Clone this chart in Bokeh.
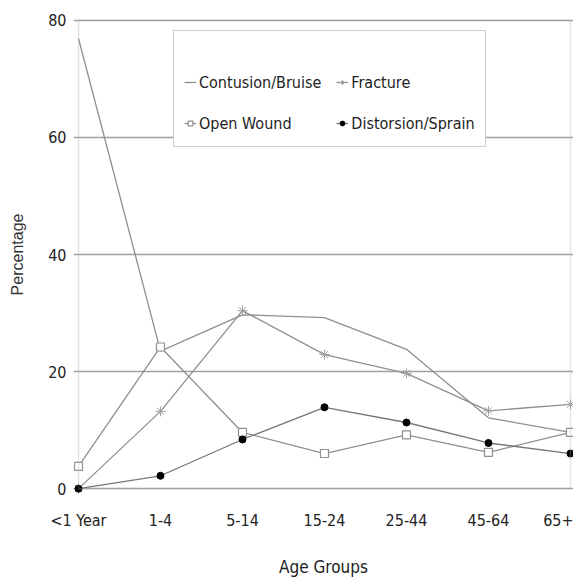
from bokeh.plotting import figure
from bokeh.models import (Range1d, FixedTicker, Legend, LegendItem, BoxAnnotation, Label)
from bokeh.embed import file_html
from bokeh.resources import INLINE

age_groups = ["<1 Year", "1-4", "5-14", "15-24", "25-44", "45-64", "65+"]
x_pos = list(range(len(age_groups)))
contusion = [76.9, 23.5, 29.7, 29.2, 23.8, 12.1, 9.6]
fracture = [0.0, 13.2, 30.4, 22.9, 19.7, 13.3, 14.4]
open_wound = [3.8, 24.2, 9.6, 6.0, 9.2, 6.2, 9.6]
sprain = [0.0, 2.2, 8.4, 13.9, 11.3, 7.8, 6.0]
y_ticks = [0, 20, 40, 60, 80]

FONT = "DejaVu Sans Condensed"
GRAY = "#8f8f8f"

p = figure(frame_width=500, frame_height=480, width=573, height=569,
           x_range=Range1d(-0.061, 6.037), y_range=Range1d(-1, 81),
           output_backend="svg", toolbar_location=None,
           min_border_left=73, min_border_right=0, min_border_top=14, min_border_bottom=75)
p.outline_line_color = None
p.background_fill_color = "white"

p.xaxis.ticker = FixedTicker(ticks=x_pos)
p.xaxis.major_label_overrides = {i: lab for i, lab in zip(x_pos, age_groups)}
p.yaxis.ticker = FixedTicker(ticks=y_ticks)
for ax in (p.xaxis, p.yaxis):
    ax.axis_line_color = None
    ax.major_tick_line_color = None
    ax.minor_tick_line_color = None
    ax.major_label_text_font = FONT
    ax.major_label_text_font_size = "16px"
    ax.major_label_text_color = "#222222"
p.yaxis.major_tick_out = 0
p.yaxis.major_tick_in = 0
p.xaxis.major_label_standoff = 10
p.yaxis.major_label_standoff = 7
p.xaxis.axis_label = "Age Groups"
p.xaxis.axis_label_text_font = FONT
p.xaxis.axis_label_text_font_size = "17px"
p.xaxis.axis_label_text_font_style = "normal"
p.xaxis.axis_label_text_color = "#222222"
p.xaxis.axis_label_standoff = 24
p.yaxis.axis_label = "Percentage"
p.yaxis.axis_label_text_font = "Liberation Sans"
p.yaxis.axis_label_text_font_size = "16px"
p.yaxis.axis_label_text_font_style = "normal"
p.yaxis.axis_label_text_color = "#333333"
p.yaxis.axis_label_standoff = 19

p.xgrid.grid_line_color = None
p.ygrid.ticker = FixedTicker(ticks=y_ticks)
p.ygrid.grid_line_color = "#a0a0a0"
p.ygrid.grid_line_width = 1.6

p.add_layout(BoxAnnotation(left=0, right=6, bottom=0, top=80, fill_alpha=0,
                           line_color="#a8a8a8", line_width=1.5))

r_c = p.line(x_pos, contusion, line_color=GRAY, line_width=1.3)
r_f = p.line(x_pos, fracture, line_color=GRAY, line_width=1.3)
r_fm = p.scatter(x_pos, fracture, marker="asterisk", size=10, line_color="#a0a0a0", line_width=1)
r_o = p.line(x_pos, open_wound, line_color=GRAY, line_width=1.3)
r_om = p.scatter(x_pos, open_wound, marker="square", size=8, fill_color="white",
                 line_color="#909090", line_width=1.2)
r_s = p.line(x_pos, sprain, line_color="#777777", line_width=1.3)
r_sm = p.scatter(x_pos, sprain, marker="circle", size=7, fill_color="black", line_color="black")

legend = Legend(items=[
    LegendItem(label="Contusion/Bruise", renderers=[r_c]),
    LegendItem(label="Open Wound", renderers=[r_o, r_om]),
    LegendItem(label="Fracture", renderers=[r_f, r_fm]),
    LegendItem(label="Distorsion/Sprain", renderers=[r_s, r_sm]),
], ncols=2, location=(100, 347))
legend.title = " "
legend.title_text_font_size = "17px"
legend.title_standoff = 8
legend.label_text_font = FONT
legend.label_text_font_size = "16px"
legend.label_text_color = "#222222"
legend.label_height = 26
legend.label_width = 112
legend.glyph_width = 12
legend.glyph_height = 12
legend.label_standoff = 3
legend.spacing = 15
legend.padding = 10
legend.margin = 0
legend.border_line_color = "#a0a0a0"
legend.border_line_width = 1.5
legend.background_fill_color = "white"
legend.background_fill_alpha = 1
p.add_layout(legend, "center")

p.add_layout(Label(x=247, y=442, x_units="screen", y_units="screen", text="Injuries",
                   text_font=FONT, text_font_size="16px", text_color="#222222",
                   text_align="center", text_baseline="middle"))

open("out.html", "w").write(file_html(p, INLINE))
